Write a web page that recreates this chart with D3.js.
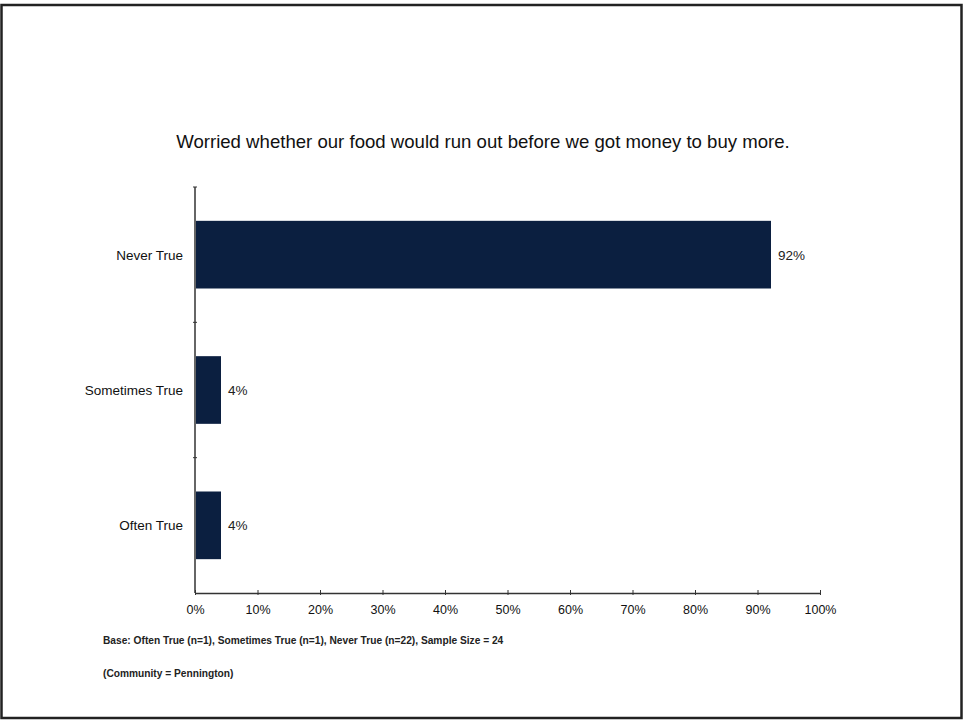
<!DOCTYPE html>
<html><head><meta charset="utf-8">
<script src="https://cdn.jsdelivr.net/npm/d3@7"></script>
<style>body{margin:0;background:#fff;font-family:Arial,"Liberation Sans",sans-serif;}</style>
</head><body>
<svg id="c" width="964" height="723"></svg>
<script>
const categories = ["Never True", "Sometimes True", "Often True"];
const values = [92, 4, 4];
const xTicks = [0,10,20,30,40,50,60,70,80,90,100];
const title = "Worried whether our food would run out before we got money to buy more.";
const notes = ["Base: Often True (n=1), Sometimes True (n=1), Never True (n=22), Sample Size = 24", "(Community = Pennington)"];

const svg = d3.select("#c");
svg.append("rect").attr("x",1.5).attr("y",5).attr("width",960).attr("height",713)
  .attr("fill","none").attr("stroke","#222").attr("stroke-width",2.5);

const m = {left:195, right:820, top:187, bottom:593};
const x = d3.scaleLinear().domain([0,100]).range([m.left, m.right]);
const y = d3.scaleBand().domain(categories).range([m.top, m.bottom]).paddingInner(0.5).paddingOuter(0.25);

svg.append("text").attr("x",483).attr("y",148).attr("text-anchor","middle")
  .attr("font-size",18.6).attr("fill","#111").text(title);

svg.selectAll("rect.bar").data(categories).join("rect").attr("class","bar")
  .attr("x",x(0)+1).attr("y",d=>y(d)).attr("height",y.bandwidth())
  .attr("width",(d,i)=>x(values[i])-x(0)).attr("fill","#0b1f40");

svg.selectAll("text.val").data(categories).join("text").attr("class","val")
  .attr("x",(d,i)=>x(values[i])+8).attr("y",d=>y(d)+y.bandwidth()/2+5)
  .attr("font-size",13.5).attr("fill","#222").text((d,i)=>values[i]+"%");

// x axis
const xa = svg.append("g").attr("transform",`translate(0,${m.bottom})`)
  .call(d3.axisBottom(x).tickValues(xTicks).tickFormat(d=>d+"%").tickSize(4).tickSizeOuter(0));
xa.select(".domain").attr("stroke","#333").attr("stroke-width",1.5);
xa.selectAll(".tick line").attr("stroke","#333").attr("y1",-3).attr("y2",2);
xa.selectAll(".tick text").attr("font-size",12.5).attr("font-family","Arial,'Liberation Sans',sans-serif").attr("fill","#111").attr("dy","1.1em");

// y axis with separator ticks between categories
svg.append("line").attr("x1",m.left).attr("x2",m.left).attr("y1",m.top).attr("y2",m.bottom)
  .attr("stroke","#333").attr("stroke-width",1.5);
const step = y.step();
const seps = [m.top].concat(categories.slice(1).map(d=>y(d)-y.paddingInner()*step/2));
svg.selectAll("line.sep").data(seps).join("line").attr("class","sep")
  .attr("x1",m.left-2).attr("x2",m.left+2).attr("y1",d=>d).attr("y2",d=>d).attr("stroke","#333");
svg.selectAll("text.cat").data(categories).join("text").attr("class","cat")
  .attr("x",m.left-12).attr("y",d=>y(d)+y.bandwidth()/2+5).attr("text-anchor","end")
  .attr("font-size",13.5).attr("fill","#111").text(d=>d);

svg.selectAll("text.note").data(notes).join("text").attr("class","note")
  .attr("x",103).attr("y",(d,i)=>644+i*33).attr("font-size",10.2).attr("font-weight","bold")
  .attr("fill","#222").text(d=>d);
</script>
</body></html>
